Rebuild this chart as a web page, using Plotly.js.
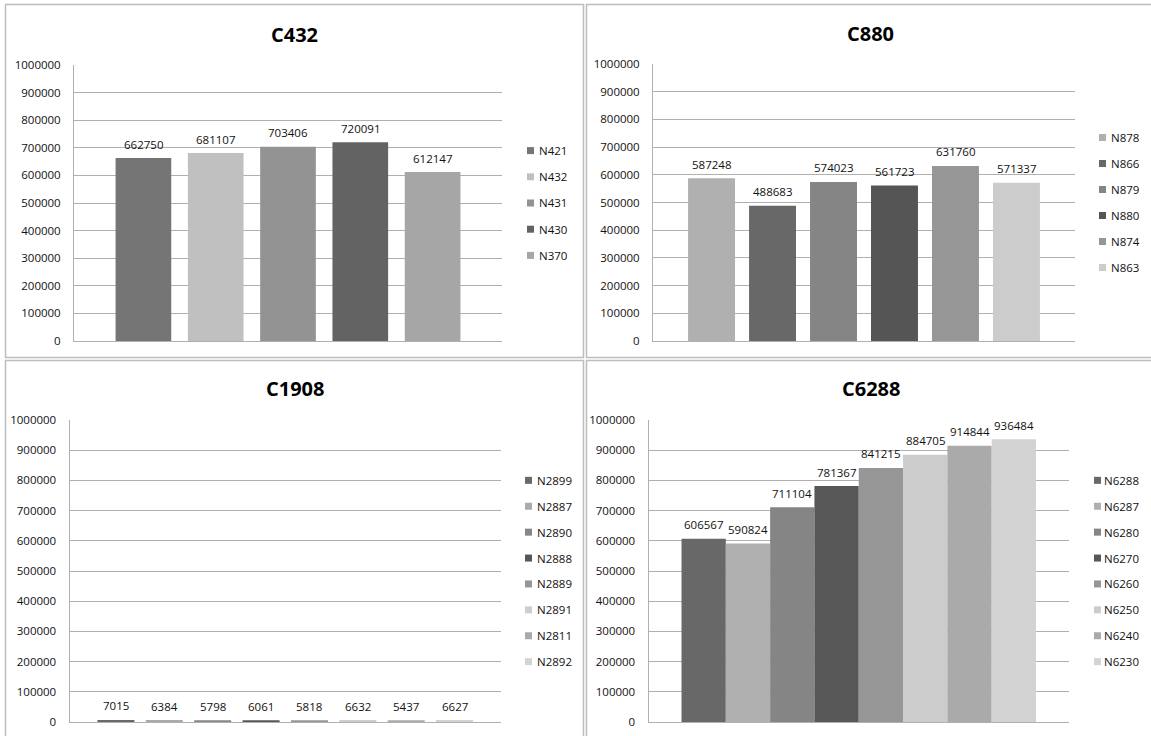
<!DOCTYPE html>
<html>
<head>
<meta charset="utf-8">
<script src="https://cdn.plot.ly/plotly-3.0.1.min.js"></script>
<style>
  html, body { margin: 0; padding: 0; background: #ffffff; }
  #chart { width: 1151px; height: 736px; }
</style>
</head>
<body>
<div id="chart"></div>
<script>
// ---- data ----
const c432Names  = ['N421', 'N432', 'N431', 'N430', 'N370'];
const c432Values = [662750, 681107, 703406, 720091, 612147];
const c432Colors = ['#757575', '#c0c0c0', '#939393', '#636363', '#a6a6a6'];

const c880Names  = ['N878', 'N866', 'N879', 'N880', 'N874', 'N863'];
const c880Values = [587248, 488683, 574023, 561723, 631760, 571337];
const c880Colors = ['#b0b0b0', '#686868', '#858585', '#555555', '#969696', '#cccccc'];

const c1908Names  = ['N2899', 'N2887', 'N2890', 'N2888', 'N2889', 'N2891', 'N2811', 'N2892'];
const c1908Values = [7015, 6384, 5798, 6061, 5818, 6632, 5437, 6627];
const c1908Colors = ['#696969', '#ababab', '#868686', '#575757', '#969696', '#cecece', '#aaaaaa', '#d3d3d3'];

const c6288Names  = ['N6288', 'N6287', 'N6280', 'N6270', 'N6260', 'N6250', 'N6240', 'N6230'];
const c6288Values = [606567, 590824, 711104, 781367, 841215, 884705, 914844, 936484];
const c6288Colors = ['#686868', '#b0b0b0', '#858585', '#575757', '#969696', '#cccccc', '#aaaaaa', '#d3d3d3'];

const yTickValues = [0, 100000, 200000, 300000, 400000, 500000, 600000, 700000, 800000, 900000, 1000000];

// ---- page geometry (pixels) ----
const W = 1151, H = 736;
const FONT = '"Open Sans", "Noto Sans", sans-serif';
const FONT_SIZE = 11.5;
const TEXT_COLOR = '#111111';
const GRID_COLOR = '#b0b0b0';

const panels = [
  { title: 'C432',  names: c432Names,  values: c432Values,  colors: c432Colors,
    plot: { l: 74,    r: 502,  t: 65,  b: 341 }, titleX: 294, titleY: 34,
    barWidth: 0.77, edgePad: 0.46, swatchX: 527, textX: 537, legendStep: 26.2,
    frame: { l: 5.5, r: 583.5, t: 4.5, b: 357.5 } },
  { title: 'C880',  names: c880Names,  values: c880Values,  colors: c880Colors,
    plot: { l: 653,   r: 1075, t: 64,  b: 341 }, titleX: 870, titleY: 33,
    barWidth: 0.77, edgePad: 0.46, swatchX: 1099, textX: 1109, legendStep: 26,
    frame: { l: 586.5, r: 1160, t: 4.5, b: 357.5 } },
  { title: 'C1908', names: c1908Names, values: c1908Values, colors: c1908Colors,
    plot: { l: 69.5,  r: 501,  t: 420, b: 722 }, titleX: 295, titleY: 388,
    barWidth: 0.765, edgePad: 0.46, swatchX: 525, textX: 535, legendStep: 25.9,
    frame: { l: 5.5, r: 583.5, t: 360.5, b: 760 } },
  { title: 'C6288', names: c6288Names, values: c6288Values, colors: c6288Colors,
    plot: { l: 648.5, r: 1069, t: 420, b: 722 }, titleX: 871, titleY: 388,
    barWidth: 1.0, edgePad: 0.745, swatchX: 1094, textX: 1102, legendStep: 25.9,
    frame: { l: 586.5, r: 1160, t: 360.5, b: 760 } }
];

const px = p => p / W;
const py = p => 1 - p / H;

const data = [];
const layout = {
  width: W, height: H,
  margin: { l: 0, r: 0, t: 0, b: 0 },
  paper_bgcolor: '#ffffff',
  plot_bgcolor: '#ffffff',
  showlegend: false,
  font: { family: FONT, size: FONT_SIZE, color: TEXT_COLOR },
  shapes: [],
  annotations: []
};

panels.forEach((p, i) => {
  const suffix = i === 0 ? '' : String(i + 1);
  const xa = 'xaxis' + suffix, ya = 'yaxis' + suffix;
  const xr = 'x' + suffix, yr = 'y' + suffix;
  const n = p.names.length;

  data.push({
    type: 'bar',
    x: p.names,
    y: p.values,
    width: p.barWidth,
    marker: { color: p.colors, line: { width: 0 } },
    hoverinfo: 'x+y',
    xaxis: xr, yaxis: yr
  });

  layout[xa] = {
    domain: [px(p.plot.l), px(p.plot.r)],
    anchor: yr,
    type: 'category',
    range: [-0.5 - p.edgePad, n - 0.5 + p.edgePad],
    showticklabels: false, ticks: '',
    showgrid: false, zeroline: false,
    showline: true, linecolor: GRID_COLOR, linewidth: 1,
    fixedrange: true
  };
  layout[ya] = {
    domain: [py(p.plot.b), py(p.plot.t)],
    anchor: xr,
    range: [0, 1000000],
    tickvals: yTickValues,
    ticktext: yTickValues.map(v => String(v)),
    ticks: '', ticklabelstandoff: 10,
    tickfont: { family: FONT, size: FONT_SIZE, color: TEXT_COLOR },
    showgrid: true, gridcolor: GRID_COLOR, gridwidth: 1,
    zeroline: false,
    showline: true, linecolor: GRID_COLOR, linewidth: 1,
    fixedrange: true
  };

  // panel frame
  layout.shapes.push({
    type: 'rect', xref: 'paper', yref: 'paper', layer: 'below',
    x0: px(p.frame.l), x1: px(p.frame.r), y0: py(p.frame.b), y1: py(p.frame.t),
    line: { color: '#bdbdbd', width: 1.5 }, fillcolor: 'rgba(0,0,0,0)'
  });

  // panel title
  layout.annotations.push({
    xref: 'paper', yref: 'paper', x: px(p.titleX), y: py(p.titleY),
    xanchor: 'center', yanchor: 'middle', showarrow: false,
    text: '<b>' + p.title + '</b>',
    font: { family: FONT, size: 20, color: '#000000' }
  });

  // value labels above each bar
  p.names.forEach((name, k) => {
    layout.annotations.push({
      xref: xr, yref: yr, x: name, y: p.values[k],
      xanchor: 'center', yanchor: 'middle', yshift: 14, showarrow: false,
      text: String(p.values[k]),
      font: { family: FONT, size: FONT_SIZE, color: TEXT_COLOR }
    });
  });

  // legend, vertically centred on the plot area
  const centre = (p.plot.t + p.plot.b) / 2;
  const first = centre - (n - 1) / 2 * p.legendStep;
  p.names.forEach((name, k) => {
    const cy = first + k * p.legendStep;
    layout.shapes.push({
      type: 'rect', xref: 'paper', yref: 'paper',
      x0: px(p.swatchX), x1: px(p.swatchX + 7),
      y0: py(cy + 3.5), y1: py(cy - 3.5),
      line: { width: 0 }, fillcolor: p.colors[k]
    });
    layout.annotations.push({
      xref: 'paper', yref: 'paper', x: px(p.textX), y: py(cy),
      xanchor: 'left', yanchor: 'middle', showarrow: false,
      text: name,
      font: { family: FONT, size: FONT_SIZE, color: TEXT_COLOR }
    });
  });
});

Plotly.newPlot('chart', data, layout, { displayModeBar: false, staticPlot: true });
</script>
</body>
</html>
